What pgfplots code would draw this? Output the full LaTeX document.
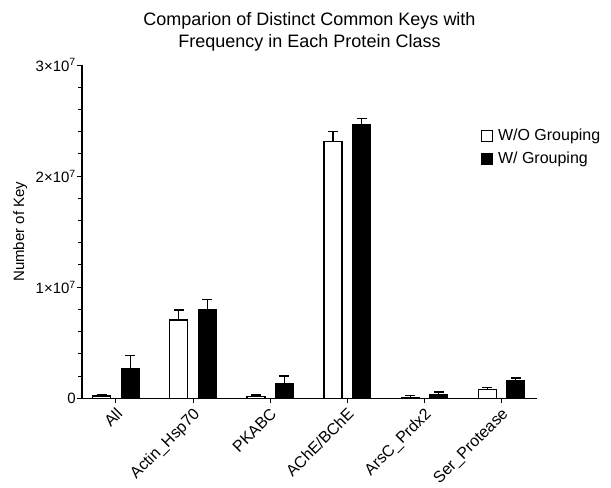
\documentclass[border=0pt]{standalone}
\usepackage{fontspec}
\setmainfont{Liberation Sans}
\usepackage{pgfplots}
\pgfplotsset{compat=1.18}
\begin{document}
\begin{tikzpicture}
\begin{axis}[
  at={(0,0)}, anchor=south west,
  scale only axis,
  width=455bp, height=333.3bp,
  ybar=10.5bp, bar width=18bp,
  xmin=-0.44, xmax=5.46,
  ymin=0, ymax=3e7,
  scaled y ticks=false,
  axis lines=left,
  axis line style={line width=1.2pt, -},
  xtick={0,1,2,3,4,5},
  xticklabels={All,Actin\_Hsp70,PKABC,AChE/BChE,ArsC\_Prdx2,Ser\_Protease},
  xticklabel style={rotate=45, anchor=north east, font=\fontsize{16bp}{18bp}\selectfont, inner sep=1pt, xshift=-2bp, yshift=-1bp},
  ytick={0,1e7,2e7,3e7},
  yticklabels={0,1{\texttimes}10\textsuperscript{7},2{\texttimes}10\textsuperscript{7},3{\texttimes}10\textsuperscript{7}},
  minor ytick={2e6,4e6,6e6,8e6,12e6,14e6,16e6,18e6,22e6,24e6,26e6,28e6},
  yticklabel style={font=\fontsize{15bp}{17bp}\selectfont, inner sep=1pt},
  tick style={black, line width=1pt},
  major tick length=5bp, minor tick length=3.5bp,
  tick align=outside,
  ylabel={Number of Key},
  ylabel style={font=\fontsize{15bp}{17bp}\selectfont, yshift=4bp},
  title={Comparion of Distinct Common Keys with\\Frequency in Each Protein Class},
  title style={align=center, font=\fontsize{18bp}{22bp}\selectfont, yshift=4bp},
  legend style={draw=none, fill=none, at={(0.87,0.82)}, anchor=north west,
    font=\fontsize{16bp}{18bp}\selectfont, row sep=6bp,
    nodes={inner xsep=5bp}},
  legend cell align=left,
  legend image code/.code={\draw[#1, line width=1pt] (0bp,-5.5bp) rectangle (11bp,5.5bp);},
  error bars/y dir=plus, error bars/y explicit,
  error bars/error bar style={line width=1.2pt, black},
  error bars/error mark options={rotate=90, mark size=5bp, line width=1.2pt, black},
  clip=false,
]
\addplot[draw=black, fill=white, line width=1.2pt] coordinates {
  (0,0.2e6) +- (0,0.12e6)
  (1,7.05e6) +- (0,0.9e6)
  (2,0.18e6) +- (0,0.12e6)
  (3,23.1e6) +- (0,0.9e6)
  (4,0.05e6) +- (0,0.18e6)
  (5,0.81e6) +- (0,0.14e6)
};
\addlegendentry{W/O Grouping}
\addplot[draw=black, fill=black, line width=1.2pt] coordinates {
  (0,2.7e6) +- (0,1.13e6)
  (1,8.01e6) +- (0,0.9e6)
  (2,1.35e6) +- (0,0.65e6)
  (3,24.6e6) +- (0,0.6e6)
  (4,0.36e6) +- (0,0.21e6)
  (5,1.58e6) +- (0,0.25e6)
};
\addlegendentry{W/ Grouping}
\end{axis}
\pgfresetboundingbox
\useasboundingbox (-82bp,-89.7bp) rectangle (529bp,398.3bp);
\end{tikzpicture}
\end{document}
